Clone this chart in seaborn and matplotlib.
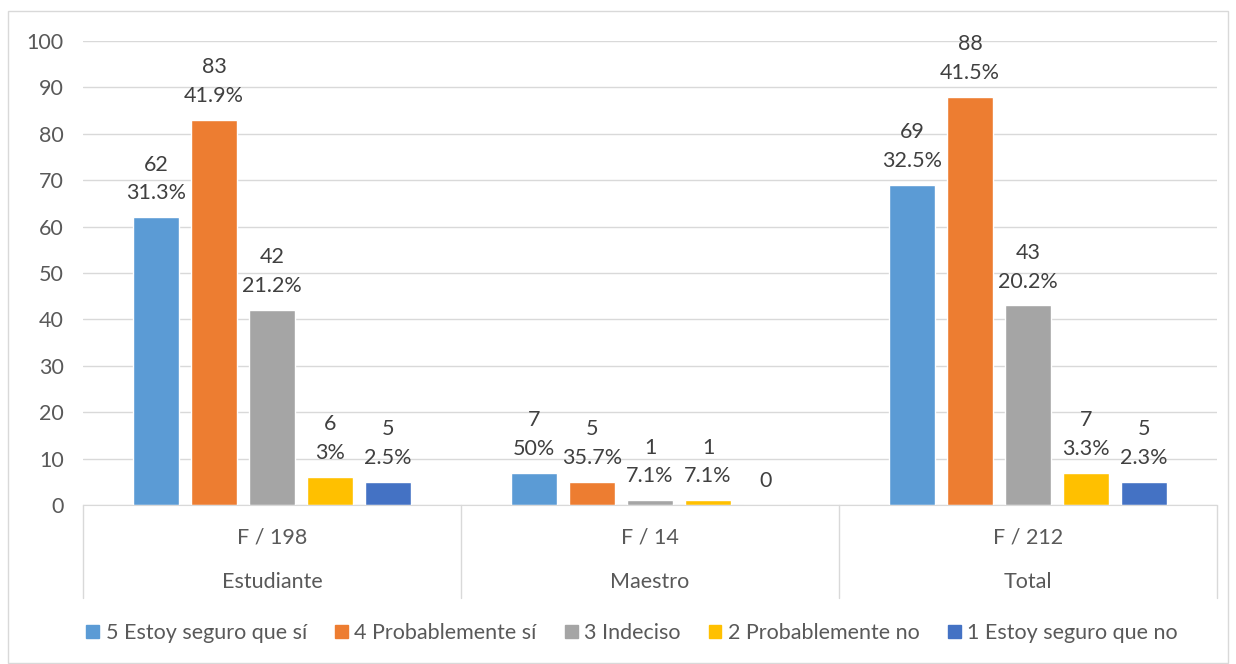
import pandas as pd
import seaborn as sns
import matplotlib.pyplot as plt
from matplotlib.patches import Rectangle
from matplotlib.lines import Line2D

grupos = ["Estudiante", "Maestro", "Total"]
frecuencias = ["F / 198", "F / 14", "F / 212"]
respuestas = ["5 Estoy seguro que sí", "4 Probablemente sí", "3 Indeciso",
              "2 Probablemente no", "1 Estoy seguro que no"]
estudiante = [62, 83, 42, 6, 5]
maestro = [7, 5, 1, 1, 0]
total = [69, 88, 43, 7, 5]
pct_estudiante = ["31.3%", "41.9%", "21.2%", "3%", "2.5%"]
pct_maestro = ["50%", "35.7%", "7.1%", "7.1%", ""]
pct_total = ["32.5%", "41.5%", "20.2%", "3.3%", "2.3%"]
colores = ["#5B9BD5", "#ED7D31", "#A5A5A5", "#FFC000", "#4472C4"]

valores = [estudiante, maestro, total]
porcentajes = [pct_estudiante, pct_maestro, pct_total]

rows = []
for g, vals in zip(grupos, valores):
    for r, v in zip(respuestas, vals):
        rows.append({"grupo": g, "respuesta": r, "valor": v})
df = pd.DataFrame(rows)

sns.set_style("white")
plt.rcParams["font.family"] = ["Lato", "DejaVu Sans"]
texto = "#595959"
fs = 15.5

fig = plt.figure(figsize=(12.36, 6.64), dpi=100)
ax = fig.add_axes([83 / 1236, 1 - 505 / 664, (1217 - 83) / 1236, (505 - 41) / 664])

sns.barplot(data=df, x="grupo", y="valor", hue="respuesta", palette=colores,
            saturation=1, width=0.767, gap=0.2, ax=ax, legend=False)

for i, cont in enumerate(ax.containers):
    labels = []
    for j in range(len(grupos)):
        v = valores[j][i]
        p = porcentajes[j][i]
        labels.append(f"{v}\n{p}" if p else f"{v}")
    ax.bar_label(cont, labels=labels, padding=10, fontsize=fs, color="#404040",
                 linespacing=1.55)

ax.set_xlim(-0.5, 2.5)
ax.set_ylim(0, 100)
ax.set_yticks(range(0, 101, 10))
ax.yaxis.grid(True, color="#D9D9D9", linewidth=1)
ax.set_axisbelow(True)
for s in ["top", "right", "left"]:
    ax.spines[s].set_visible(False)
ax.spines["bottom"].set_color("#D9D9D9")
ax.tick_params(axis="y", length=0, pad=14, labelsize=fs, labelcolor=texto)
ax.tick_params(axis="x", length=0, pad=16, labelsize=fs, labelcolor=texto)
ax.set_xticks(range(len(grupos)))
ax.set_xticklabels(frecuencias)
ax.set_xlabel("")
ax.set_ylabel("")

for j, g in enumerate(grupos):
    ax.text(j, -0.165, g, transform=ax.get_xaxis_transform(), ha="center",
            va="center", fontsize=fs, color=texto)
for xb in [-0.5, 0.5, 1.5, 2.5]:
    ax.add_line(Line2D([xb, xb], [0, -0.2], transform=ax.get_xaxis_transform(),
                       color="#D9D9D9", linewidth=1, clip_on=False))

handles = [Rectangle((0, 0), 1, 1, color=c) for c in colores]
fig.legend(handles, respuestas, loc="center", bbox_to_anchor=(632 / 1236, 1 - 633 / 664),
           ncol=5, frameon=False, fontsize=fs, labelcolor=texto,
           handlelength=0.6, handleheight=0.6, handletextpad=0.3, columnspacing=1.3)

fig.add_artist(Rectangle((8 / 1236, 0.002), 1 - 16 / 1236, 1 - 12 / 664,
                         transform=fig.transFigure, fill=False,
                         edgecolor="#D9D9D9", linewidth=1))

fig.savefig("out.png", dpi=100)
